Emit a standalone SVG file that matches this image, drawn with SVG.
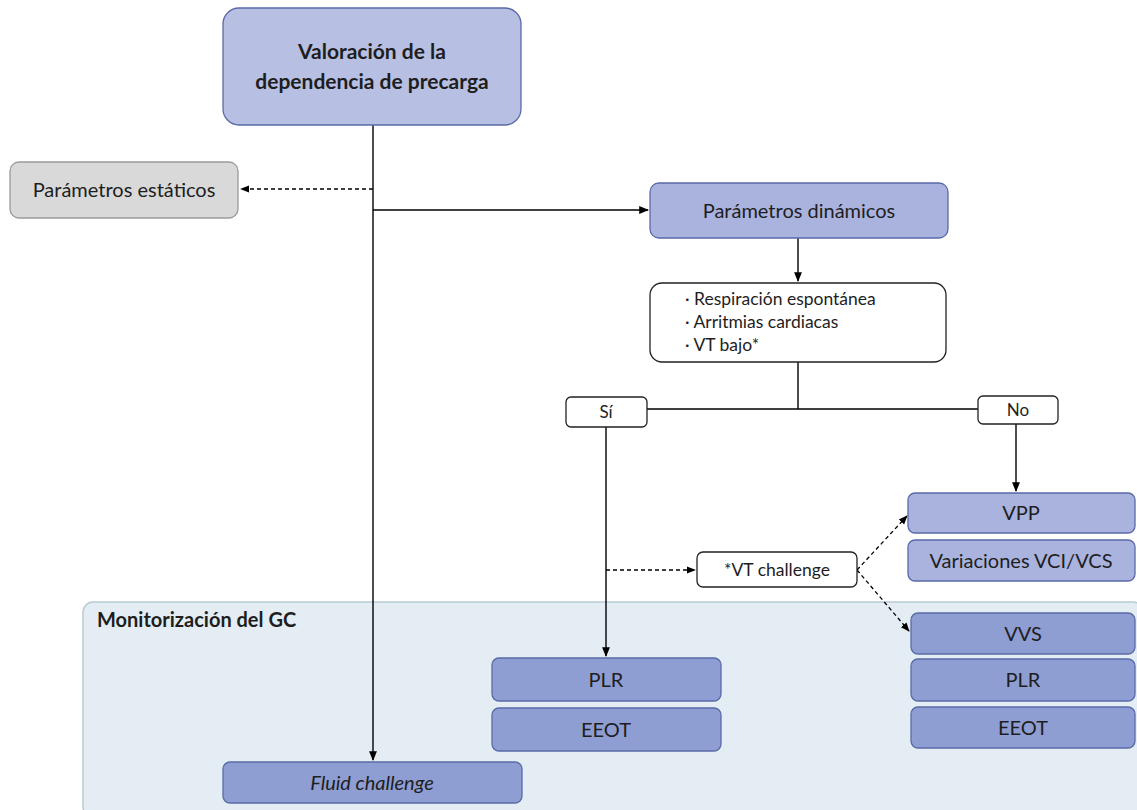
<svg xmlns="http://www.w3.org/2000/svg" width="1137" height="810" viewBox="0 0 1137 810">
<defs>
<marker id="ah" viewBox="0 0 10 10" refX="9" refY="5" markerWidth="7" markerHeight="7" orient="auto-start-reverse"><path d="M0,1 L10,5 L0,9 z" fill="#000"/></marker>
<style>
text{font-family:Lato,"Open Sans","Liberation Sans",sans-serif;fill:#1e1e1e;}
.c{text-anchor:middle;}
.b1{fill:#b7bfe3;stroke:#5a6aa8;stroke-width:1.3;}
.b2{fill:#a9b3de;stroke:#5a6aa8;stroke-width:1.3;}
.b3{fill:#8e9dd2;stroke:#5a6aa8;stroke-width:1.3;}
.w{fill:#fff;stroke:#222;stroke-width:1.3;}
.g{fill:#d9d9d9;stroke:#9a9a9a;stroke-width:1.3;}
.ln{stroke:#000;stroke-width:1.4;fill:none;}
.ds{stroke:#000;stroke-width:1.3;fill:none;stroke-dasharray:4 3;}
.t{font-size:20px;}
</style>
</defs>
<rect x="0" y="0" width="1137" height="810" fill="#fff"/>
<g id="gc-region">
<rect x="83" y="602" width="1060" height="215" rx="10" fill="#e4edf3" stroke="#b8ccd6" stroke-width="1.5"/>
<text x="97" y="627" font-size="20" font-weight="bold">Monitorización del GC</text>
</g>
<g id="connectors">
<line class="ln" x1="373" y1="125" x2="373" y2="760" marker-end="url(#ah)"/>
<line class="ds" x1="373" y1="189" x2="241" y2="189" marker-end="url(#ah)"/>
<line class="ln" x1="373" y1="210" x2="648" y2="210" marker-end="url(#ah)"/>
<line class="ln" x1="798" y1="238" x2="798" y2="281" marker-end="url(#ah)"/>
<polyline class="ln" points="798,362 798,409"/>
<line class="ln" x1="647" y1="409" x2="978" y2="409"/>
<line class="ln" x1="606" y1="427" x2="606" y2="656" marker-end="url(#ah)"/>
<line class="ln" x1="1016" y1="424" x2="1016" y2="491" marker-end="url(#ah)"/>
<line class="ds" x1="606" y1="570" x2="695" y2="570" marker-end="url(#ah)"/>
<line class="ds" x1="857" y1="570" x2="907" y2="516" marker-end="url(#ah)"/>
<line class="ds" x1="857" y1="570" x2="909" y2="631" marker-end="url(#ah)"/>
</g>
<g id="n-valoracion">
<rect class="b1" x="223" y="8" width="298" height="117" rx="16"/>
<text class="c" x="372" y="59" font-size="21" font-weight="bold">Valoración de la</text>
<text class="c" x="372" y="89" font-size="21" font-weight="bold">dependencia de precarga</text>
</g>
<g id="n-estaticos">
<rect class="g" x="10" y="162" width="228" height="56" rx="9"/>
<text class="c t" x="124" y="197">Parámetros estáticos</text>
</g>
<g id="n-dinamicos">
<rect class="b2" x="650" y="183" width="298" height="55" rx="9"/>
<text class="c t" x="799" y="218">Parámetros dinámicos</text>
</g>
<g id="n-condiciones">
<rect class="w" x="650" y="283" width="296" height="79" rx="12"/>
<text x="685" y="305" font-size="17.5">· Respiración espontánea</text>
<text x="685" y="328" font-size="17.5">· Arritmias cardiacas</text>
<text x="685" y="351" font-size="17.5">· VT bajo*</text>
</g>
<g id="n-si">
<rect class="w" x="566" y="397" width="81" height="30" rx="5"/>
<text class="c" x="606" y="418" font-size="17">Sí</text>
</g>
<g id="n-no">
<rect class="w" x="978" y="396" width="80" height="28" rx="5"/>
<text class="c" x="1018" y="416" font-size="17">No</text>
</g>
<g id="n-vtchallenge">
<rect class="w" x="697" y="552" width="160" height="35" rx="6"/>
<text class="c" x="777" y="576" font-size="17.5">*VT challenge</text>
</g>
<g id="n-vpp">
<rect class="b2" x="908" y="493" width="227" height="40" rx="7"/>
<text class="c t" x="1021" y="520">VPP</text>
</g>
<g id="n-vci">
<rect class="b2" x="908" y="540" width="227" height="41" rx="7"/>
<text class="c t" x="1021" y="568">Variaciones VCI/VCS</text>
</g>
<g id="n-plr1">
<rect class="b3" x="492" y="658" width="229" height="43" rx="7"/>
<text class="c t" x="606" y="687">PLR</text>
</g>
<g id="n-eeot1">
<rect class="b3" x="492" y="708" width="229" height="43" rx="7"/>
<text class="c t" x="606" y="737">EEOT</text>
</g>
<g id="n-vvs">
<rect class="b3" x="911" y="613" width="224" height="41" rx="7"/>
<text class="c t" x="1023" y="641">VVS</text>
</g>
<g id="n-plr2">
<rect class="b3" x="911" y="659" width="224" height="42" rx="7"/>
<text class="c t" x="1023" y="687">PLR</text>
</g>
<g id="n-eeot2">
<rect class="b3" x="911" y="707" width="224" height="41" rx="7"/>
<text class="c t" x="1023" y="735">EEOT</text>
</g>
<g id="n-fluid">
<rect class="b3" x="223" y="762" width="299" height="41" rx="7"/>
<text class="c t" x="372" y="790" font-style="italic">Fluid challenge</text>
</g>
</svg>
